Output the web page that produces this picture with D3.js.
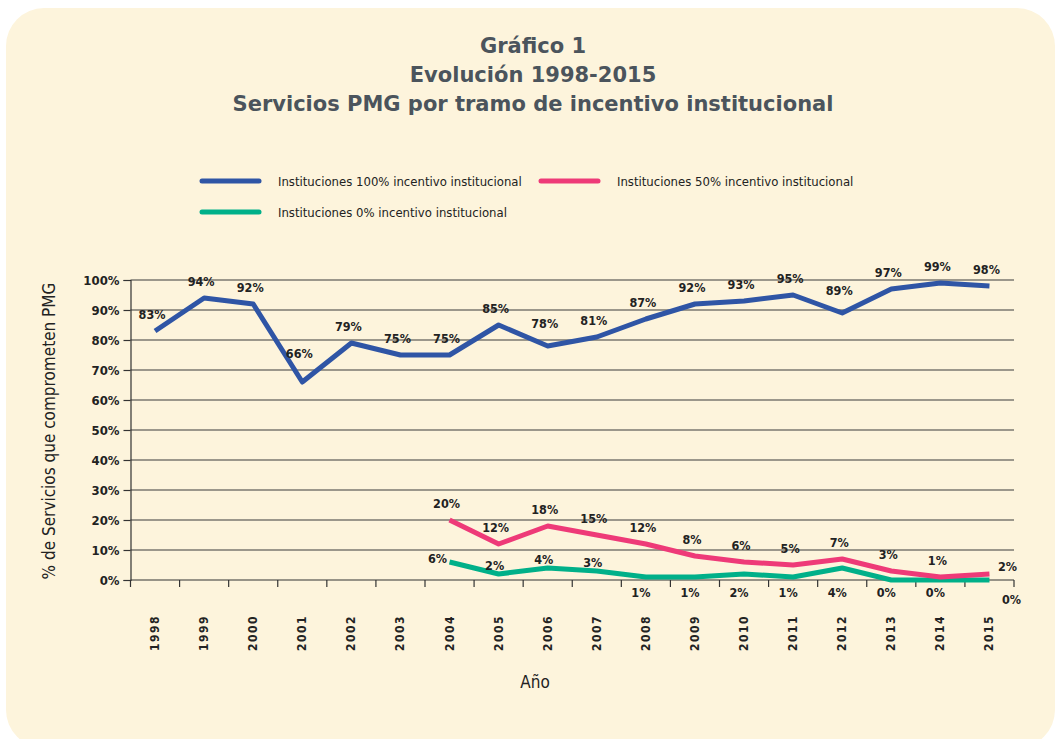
<!DOCTYPE html>
<html><head><meta charset="utf-8">
<script src="https://cdn.jsdelivr.net/npm/d3@7"></script>
<style>
html,body{margin:0;padding:0;background:#fff;}
svg{display:block;}
</style></head>
<body>
<svg id="chart" width="1055" height="739"></svg>
<script>
const years = ["1998","1999","2000","2001","2002","2003","2004","2005","2006","2007","2008","2009","2010","2011","2012","2013","2014","2015"];
const inst100 = [83,94,92,66,79,75,75,85,78,81,87,92,93,95,89,97,99,98];
const inst50 = [null,null,null,null,null,null,20,12,18,15,12,8,6,5,7,3,1,2];
const inst0 = [null,null,null,null,null,null,6,2,4,3,1,1,2,1,4,0,0,0];
const yTicks = [0,10,20,30,40,50,60,70,80,90,100];
const seriesNames = ["Instituciones 100% incentivo institucional","Instituciones 50% incentivo institucional","Instituciones 0% incentivo institucional"];
const titleLines = ["Gráfico 1","Evolución 1998-2015","Servicios PMG por tramo de incentivo institucional"];

const colors = ["#2f55a5","#ee3a78","#00b089"];
const narrow = "'Liberation Sans Narrow','DejaVu Sans Condensed',sans-serif";
const svg = d3.select("#chart");

svg.append("rect").attr("x",6).attr("y",8).attr("width",1049).attr("height",740)
  .attr("rx",38).attr("fill","#fdf4dc");

const tg = svg.append("g");
titleLines.forEach((t,i)=>{
  tg.append("text").attr("x",533).attr("y",53+i*29).attr("text-anchor","middle")
    .attr("font-family","'DejaVu Sans',sans-serif").attr("font-weight","bold").attr("font-size",21)
    .attr("fill","#4b545c").text(t);
});

// legend
const legPos = [[202,181],[541,181],[202,212]];
seriesNames.forEach((n,i)=>{
  const [lx,ly] = legPos[i];
  svg.append("line").attr("x1",lx).attr("x2",lx+57).attr("y1",ly).attr("y2",ly)
    .attr("stroke",colors[i]).attr("stroke-width",5).attr("stroke-linecap","round");
  svg.append("text").attr("x",lx+76).attr("y",ly+4.5).attr("font-family",narrow)
    .attr("font-size",13).attr("fill","#222").text(n);
});

const L=130.5, R=1014, T=280, B=580;
const x = d3.scaleBand().domain(years).range([L,R]);
const y = d3.scaleLinear().domain([0,100]).range([B,T]);
const cx = d=>x(d)+x.bandwidth()/2;

// gridlines
svg.append("g").selectAll("line").data(yTicks.filter(d=>d>0)).join("line")
  .attr("x1",L).attr("x2",R).attr("y1",d=>y(d)).attr("y2",d=>y(d))
  .attr("stroke","#3a3a3a").attr("stroke-width",1.2);

// y axis
const ya = svg.append("g").attr("transform",`translate(${L},0)`)
  .call(d3.axisLeft(y).tickValues(yTicks).tickFormat(d=>d+"%").tickSize(7).tickPadding(4));
ya.select(".domain").attr("stroke","#333").attr("stroke-width",1.2);
ya.selectAll(".tick line").attr("stroke","#333").attr("stroke-width",1.2);
ya.selectAll("text").attr("font-family",narrow).attr("font-weight","bold").attr("font-size",13).attr("fill","#222");

// x axis
const xa = svg.append("g").attr("transform",`translate(0,${B})`);
xa.append("line").attr("x1",L).attr("x2",R).attr("stroke","#333").attr("stroke-width",1.2);
xa.selectAll("line.t").data(d3.range(years.length+1)).join("line").attr("class","t")
  .attr("x1",i=>L+i*x.step()).attr("x2",i=>L+i*x.step()).attr("y1",0).attr("y2",7)
  .attr("stroke","#333").attr("stroke-width",1.2);
xa.selectAll("text").data(years).join("text")
  .attr("transform",d=>`translate(${cx(d)+4},35) rotate(-90)`)
  .attr("text-anchor","end").attr("font-family",narrow).attr("font-weight","bold")
  .attr("font-size",12).attr("letter-spacing",1.5).attr("fill","#222").text(d=>d);

// axis titles
svg.append("text").attr("transform","translate(55,431) rotate(-90)").attr("text-anchor","middle")
  .attr("font-family",narrow).attr("font-size",17).attr("fill","#222").text("% de Servicios que comprometen PMG");
svg.append("text").attr("x",535).attr("y",688).attr("text-anchor","middle")
  .attr("font-family",narrow).attr("font-size",17).attr("fill","#222").text("Año");

// lines
const allSeries=[inst100,inst50,inst0];
const line = d3.line().defined(d=>d.v!=null).x(d=>cx(d.yr)).y(d=>y(d.v));
[2,1,0].forEach(i=>{
  const data = years.map((yr,k)=>({yr,v:allSeries[i][k]}));
  svg.append("path").datum(data).attr("d",line).attr("fill","none")
    .attr("stroke",colors[i]).attr("stroke-width",5).attr("stroke-linejoin","round");
});

// labels
function lab(xp,yp,t){
  svg.append("text").attr("x",xp).attr("y",yp).attr("text-anchor","middle")
    .attr("font-family",narrow).attr("font-weight","bold").attr("font-size",12.5).attr("fill","#222").text(t);
}
function isMin(arr,k){
  return k>0 && k<arr.length-1 && arr[k]<arr[k-1] && arr[k]<arr[k+1];
}
years.forEach((yr,k)=>{
  const d100 = isMin(inst100,k) ? (inst100[k-1]-inst100[k]>10 ? -24 : -18) : -12;
  lab(cx(yr)-3, y(inst100[k])+d100, inst100[k]+"%");
  if(inst50[k]!=null){
    if(k===years.length-1) lab(cx(yr)+18, y(inst50[k])-3, inst50[k]+"%");
    else lab(cx(yr)-3, y(inst50[k])-12, inst50[k]+"%");
  }
  if(inst0[k]!=null){
    if(k===6) lab(cx(yr)-12, y(inst0[k])+1, inst0[k]+"%");
    else if(k<10) lab(cx(yr)-4, y(inst0[k])-4, inst0[k]+"%");
    else if(k===years.length-1) lab(cx(yr)+22, B+24, inst0[k]+"%");
    else lab(cx(yr)-5, B+17, inst0[k]+"%");
  }
});
</script>
</body></html>
